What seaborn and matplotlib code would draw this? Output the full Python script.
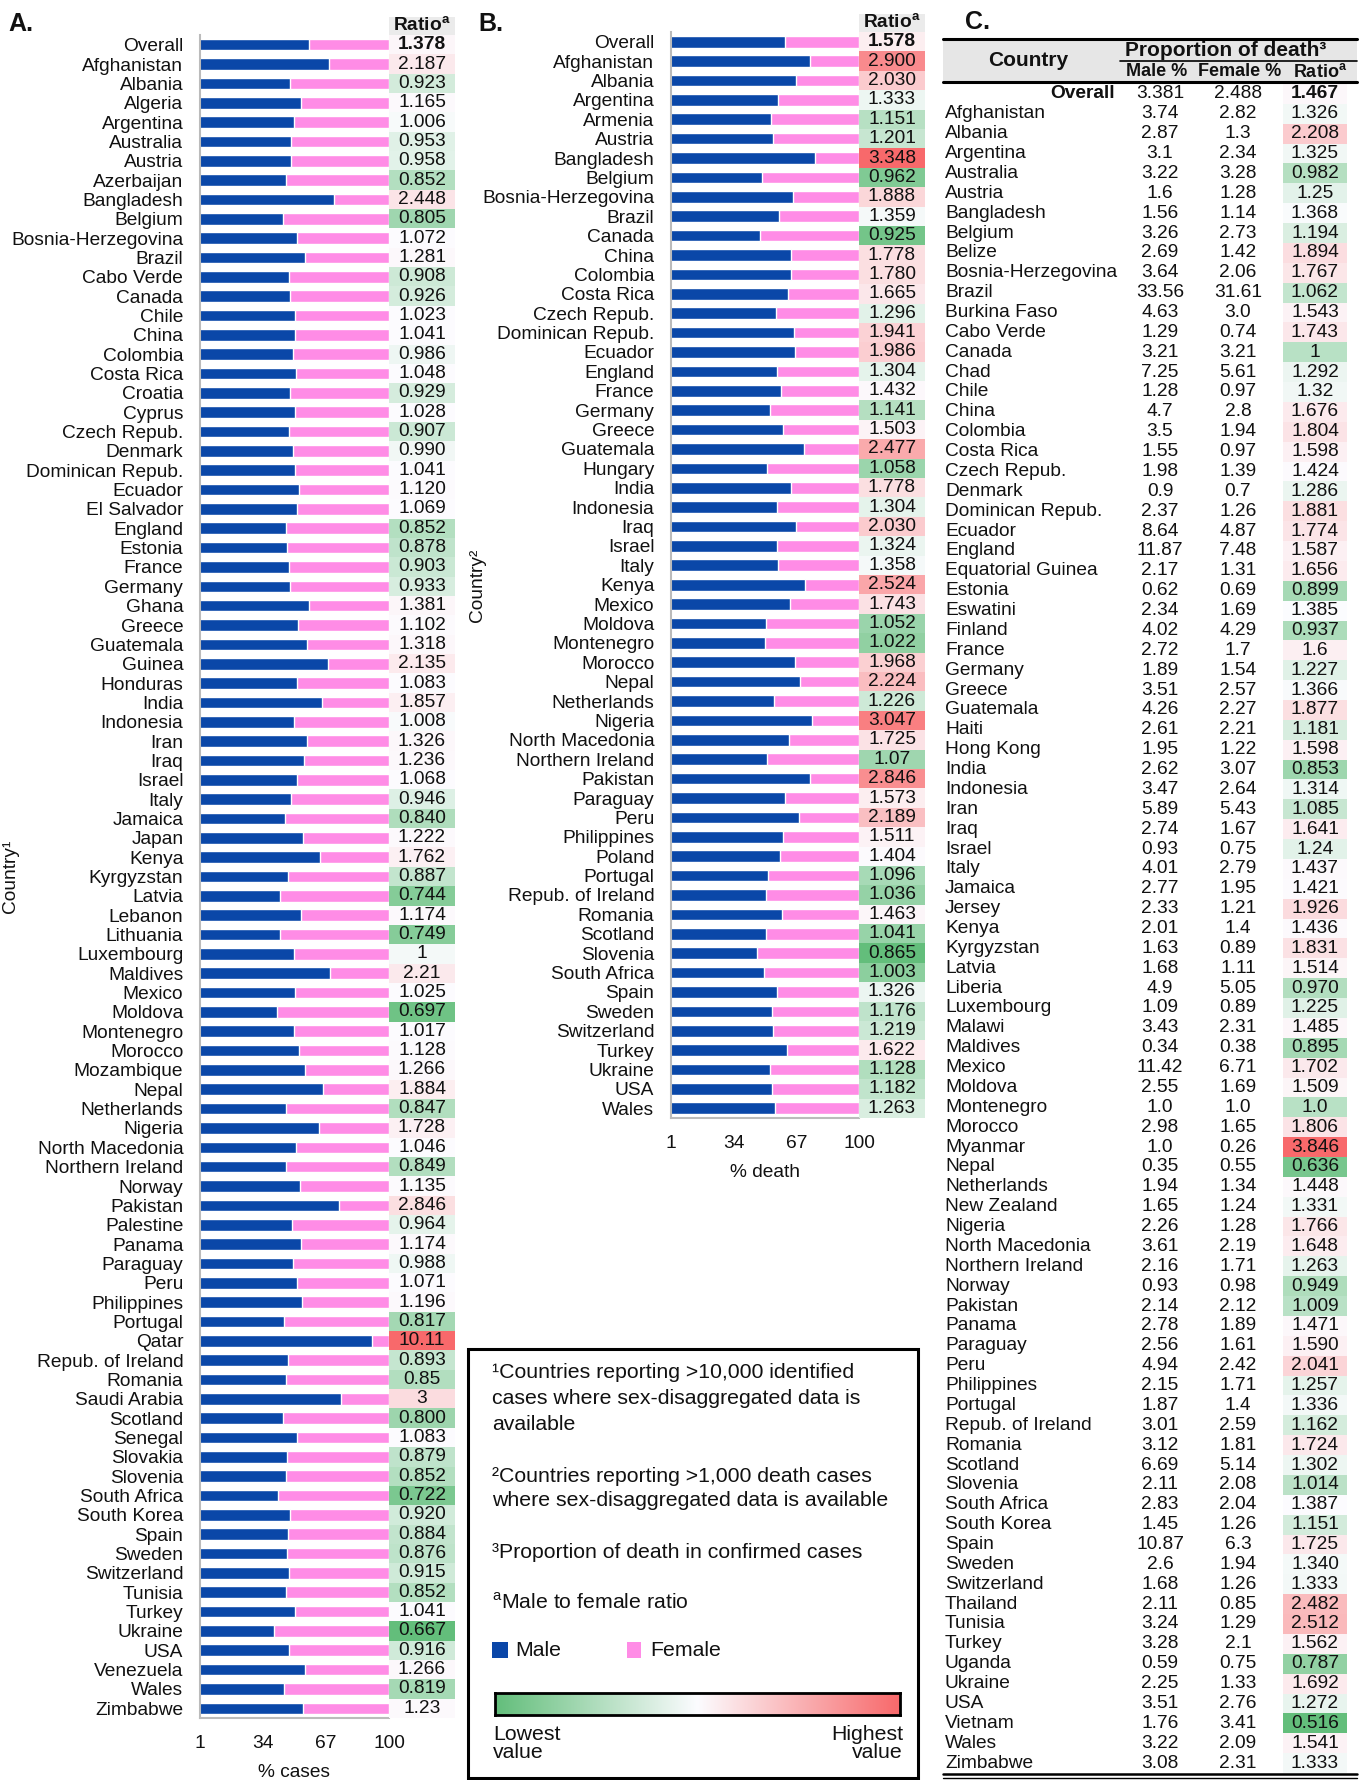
import numpy as np
import pandas as pd
import matplotlib.pyplot as plt
from matplotlib.colors import LinearSegmentedColormap, TwoSlopeNorm
from matplotlib.patches import Rectangle
from matplotlib.lines import Line2D
import seaborn as sns

sns.set_theme(style="white")
plt.rcParams["font.family"] = ["Liberation Sans", "DejaVu Sans"]
plt.rcParams["mathtext.fontset"] = "custom"
plt.rcParams["mathtext.rm"] = "Liberation Sans"
plt.rcParams["mathtext.bf"] = "Liberation Sans:bold"

# ---- panel A: cases ----
countries_a = [
    "Overall", "Afghanistan", "Albania", "Algeria", "Argentina", "Australia", "Austria",
    "Azerbaijan", "Bangladesh", "Belgium", "Bosnia-Herzegovina", "Brazil", "Cabo Verde",
    "Canada", "Chile", "China", "Colombia", "Costa Rica", "Croatia", "Cyprus", "Czech Repub.",
    "Denmark", "Dominican Repub.", "Ecuador", "El Salvador", "England", "Estonia", "France",
    "Germany", "Ghana", "Greece", "Guatemala", "Guinea", "Honduras", "India", "Indonesia",
    "Iran", "Iraq", "Israel", "Italy", "Jamaica", "Japan", "Kenya", "Kyrgyzstan", "Latvia",
    "Lebanon", "Lithuania", "Luxembourg", "Maldives", "Mexico", "Moldova", "Montenegro",
    "Morocco", "Mozambique", "Nepal", "Netherlands", "Nigeria", "North Macedonia",
    "Northern Ireland", "Norway", "Pakistan", "Palestine", "Panama", "Paraguay", "Peru",
    "Philippines", "Portugal", "Qatar", "Repub. of Ireland", "Romania", "Saudi Arabia",
    "Scotland", "Senegal", "Slovakia", "Slovenia", "South Africa", "South Korea", "Spain",
    "Sweden", "Switzerland", "Tunisia", "Turkey", "Ukraine", "USA", "Venezuela", "Wales",
    "Zimbabwe",
]
ratio_a = [
    "1.378", "2.187", "0.923", "1.165", "1.006", "0.953", "0.958", "0.852", "2.448", "0.805",
    "1.072", "1.281", "0.908", "0.926", "1.023", "1.041", "0.986", "1.048", "0.929", "1.028",
    "0.907", "0.990", "1.041", "1.120", "1.069", "0.852", "0.878", "0.903", "0.933", "1.381",
    "1.102", "1.318", "2.135", "1.083", "1.857", "1.008", "1.326", "1.236", "1.068", "0.946",
    "0.840", "1.222", "1.762", "0.887", "0.744", "1.174", "0.749", "1", "2.21", "1.025",
    "0.697", "1.017", "1.128", "1.266", "1.884", "0.847", "1.728", "1.046", "0.849", "1.135",
    "2.846", "0.964", "1.174", "0.988", "1.071", "1.196", "0.817", "10.11", "0.893", "0.85",
    "3", "0.800", "1.083", "0.879", "0.852", "0.722", "0.920", "0.884", "0.876", "0.915",
    "0.852", "1.041", "0.667", "0.916", "1.266", "0.819", "1.23",
]

# ---- panel B: deaths ----
countries_b = [
    "Overall", "Afghanistan", "Albania", "Argentina", "Armenia", "Austria", "Bangladesh",
    "Belgium", "Bosnia-Herzegovina", "Brazil", "Canada", "China", "Colombia", "Costa Rica",
    "Czech Repub.", "Dominican Repub.", "Ecuador", "England", "France", "Germany", "Greece",
    "Guatemala", "Hungary", "India", "Indonesia", "Iraq", "Israel", "Italy", "Kenya", "Mexico",
    "Moldova", "Montenegro", "Morocco", "Nepal", "Netherlands", "Nigeria", "North Macedonia",
    "Northern Ireland", "Pakistan", "Paraguay", "Peru", "Philippines", "Poland", "Portugal",
    "Repub. of Ireland", "Romania", "Scotland", "Slovenia", "South Africa", "Spain", "Sweden",
    "Switzerland", "Turkey", "Ukraine", "USA", "Wales",
]
ratio_b = [
    "1.578", "2.900", "2.030", "1.333", "1.151", "1.201", "3.348", "0.962", "1.888", "1.359",
    "0.925", "1.778", "1.780", "1.665", "1.296", "1.941", "1.986", "1.304", "1.432", "1.141",
    "1.503", "2.477", "1.058", "1.778", "1.304", "2.030", "1.324", "1.358", "2.524", "1.743",
    "1.052", "1.022", "1.968", "2.224", "1.226", "3.047", "1.725", "1.07", "2.846", "1.573",
    "2.189", "1.511", "1.404", "1.096", "1.036", "1.463", "1.041", "0.865", "1.003", "1.326",
    "1.176", "1.219", "1.622", "1.128", "1.182", "1.263",
]

# ---- panel C: proportion of death ----
countries_c = [
    "Overall", "Afghanistan", "Albania", "Argentina", "Australia", "Austria", "Bangladesh",
    "Belgium", "Belize", "Bosnia-Herzegovina", "Brazil", "Burkina Faso", "Cabo Verde",
    "Canada", "Chad", "Chile", "China", "Colombia", "Costa Rica", "Czech Repub.", "Denmark",
    "Dominican Repub.", "Ecuador", "England", "Equatorial Guinea", "Estonia", "Eswatini",
    "Finland", "France", "Germany", "Greece", "Guatemala", "Haiti", "Hong Kong", "India",
    "Indonesia", "Iran", "Iraq", "Israel", "Italy", "Jamaica", "Jersey", "Kenya", "Kyrgyzstan",
    "Latvia", "Liberia", "Luxembourg", "Malawi", "Maldives", "Mexico", "Moldova", "Montenegro",
    "Morocco", "Myanmar", "Nepal", "Netherlands", "New Zealand", "Nigeria", "North Macedonia",
    "Northern Ireland", "Norway", "Pakistan", "Panama", "Paraguay", "Peru", "Philippines",
    "Portugal", "Repub. of Ireland", "Romania", "Scotland", "Slovenia", "South Africa",
    "South Korea", "Spain", "Sweden", "Switzerland", "Thailand", "Tunisia", "Turkey", "Uganda",
    "Ukraine", "USA", "Vietnam", "Wales", "Zimbabwe",
]
male_c = [
    "3.381", "3.74", "2.87", "3.1", "3.22", "1.6", "1.56", "3.26", "2.69", "3.64", "33.56",
    "4.63", "1.29", "3.21", "7.25", "1.28", "4.7", "3.5", "1.55", "1.98", "0.9", "2.37", "8.64",
    "11.87", "2.17", "0.62", "2.34", "4.02", "2.72", "1.89", "3.51", "4.26", "2.61", "1.95",
    "2.62", "3.47", "5.89", "2.74", "0.93", "4.01", "2.77", "2.33", "2.01", "1.63", "1.68",
    "4.9", "1.09", "3.43", "0.34", "11.42", "2.55", "1.0", "2.98", "1.0", "0.35", "1.94",
    "1.65", "2.26", "3.61", "2.16", "0.93", "2.14", "2.78", "2.56", "4.94", "2.15", "1.87",
    "3.01", "3.12", "6.69", "2.11", "2.83", "1.45", "10.87", "2.6", "1.68", "2.11", "3.24",
    "3.28", "0.59", "2.25", "3.51", "1.76", "3.22", "3.08",
]
female_c = [
    "2.488", "2.82", "1.3", "2.34", "3.28", "1.28", "1.14", "2.73", "1.42", "2.06", "31.61",
    "3.0", "0.74", "3.21", "5.61", "0.97", "2.8", "1.94", "0.97", "1.39", "0.7", "1.26", "4.87",
    "7.48", "1.31", "0.69", "1.69", "4.29", "1.7", "1.54", "2.57", "2.27", "2.21", "1.22",
    "3.07", "2.64", "5.43", "1.67", "0.75", "2.79", "1.95", "1.21", "1.4", "0.89", "1.11",
    "5.05", "0.89", "2.31", "0.38", "6.71", "1.69", "1.0", "1.65", "0.26", "0.55", "1.34",
    "1.24", "1.28", "2.19", "1.71", "0.98", "2.12", "1.89", "1.61", "2.42", "1.71", "1.4",
    "2.59", "1.81", "5.14", "2.08", "2.04", "1.26", "6.3", "1.94", "1.26", "0.85", "1.29",
    "2.1", "0.75", "1.33", "2.76", "3.41", "2.09", "2.31",
]
ratio_c = [
    "1.467", "1.326", "2.208", "1.325", "0.982", "1.25", "1.368", "1.194", "1.894", "1.767",
    "1.062", "1.543", "1.743", "1", "1.292", "1.32", "1.676", "1.804", "1.598", "1.424",
    "1.286", "1.881", "1.774", "1.587", "1.656", "0.899", "1.385", "0.937", "1.6", "1.227",
    "1.366", "1.877", "1.181", "1.598", "0.853", "1.314", "1.085", "1.641", "1.24", "1.437",
    "1.421", "1.926", "1.436", "1.831", "1.514", "0.970", "1.225", "1.485", "0.895", "1.702",
    "1.509", "1.0", "1.806", "3.846", "0.636", "1.448", "1.331", "1.766", "1.648", "1.263",
    "0.949", "1.009", "1.471", "1.590", "2.041", "1.257", "1.336", "1.162", "1.724", "1.302",
    "1.014", "1.387", "1.151", "1.725", "1.340", "1.333", "2.482", "2.512", "1.562", "0.787",
    "1.692", "1.272", "0.516", "1.541", "1.333",
]

BLUE = "#0A47A8"
PINK = "#FF8CE6"
INK = "#111111"
FS = 13.8
cmap = LinearSegmentedColormap.from_list("gwr", ["#63BE7B", "#FCFCFF", "#F8696B"])

W, H = 1360, 1780
fig = plt.figure(figsize=(W / 100, H / 100), dpi=100)


def box(x0, y0, x1, y1):
    return fig.add_axes([x0 / W, 1 - y1 / H, (x1 - x0) / W, (y1 - y0) / H])


def ftext(x, y, s, **kw):
    kw.setdefault("fontsize", FS)
    kw.setdefault("va", "center")
    kw.setdefault("color", INK)
    return fig.text(x / W, 1 - y / H, s, **kw)


def frect(x0, y0, x1, y1, **kw):
    kw.setdefault("zorder", -1)
    fig.add_artist(Rectangle((x0 / W, 1 - y1 / H), (x1 - x0) / W, (y1 - y0) / H,
                             transform=fig.transFigure, **kw))


def fline(x0, x1, y, lw, color="black"):
    fig.add_artist(Line2D([x0 / W, x1 / W], [1 - y / H] * 2, transform=fig.transFigure,
                          lw=lw, color=color, zorder=5))


def ratio_column(ax, labels):
    v = np.array([float(s) for s in labels])
    norm = TwoSlopeNorm(vmin=v.min(), vcenter=np.median(v), vmax=v.max())
    sns.heatmap(v[:, None], ax=ax, cmap=cmap, norm=norm, annot=np.array(labels)[:, None],
                fmt="", cbar=False, xticklabels=False, yticklabels=False,
                annot_kws={"fontsize": FS, "color": INK})
    ax.texts[0].set_fontweight("bold")


def bar_panel(ax, countries, labels, xlabel):
    r = np.array([float(s) for s in labels])
    df = pd.DataFrame({"country": countries, "female": 100.0, "male": r / (1 + r) * 100})
    sns.barplot(data=df, x="female", y="country", orient="h", color=PINK, width=0.6,
                saturation=1, ax=ax)
    sns.barplot(data=df, x="male", y="country", orient="h", color=BLUE, width=0.6,
                saturation=1, ax=ax)
    ax.set_xlim(1, 100)
    ax.set_xticks([1, 34, 67, 100])
    ax.tick_params(axis="both", length=0, labelsize=FS, labelcolor=INK)
    ax.tick_params(axis="y", pad=12)
    ax.tick_params(axis="x", pad=12)
    ax.set_ylabel("")
    ax.set_xlabel(xlabel, fontsize=FS, labelpad=9, color=INK)
    for s in ["top", "right"]:
        ax.spines[s].set_visible(False)
    for s in ["left", "bottom"]:
        ax.spines[s].set_color("#BBBBBB")
        ax.spines[s].set_linewidth(1.5)


RATIO_HDR = r"Ratio$^\mathbf{a}$"

# panel A
axA = box(200, 35, 389, 1718)
bar_panel(axA, countries_a, ratio_a, "% cases")
ratio_column(box(389, 35, 455, 1718), ratio_a)
frect(389, 17, 455, 36, color="#EBEBEB", lw=0)
ftext(422, 26, RATIO_HDR, ha="center", fontweight="bold")
ftext(8, 24, "A.", fontsize=18, fontweight="bold")
ftext(10, 876, "Country¹", rotation=90, ha="center")

# panel B
axB = box(671, 32, 859, 1118)
bar_panel(axB, countries_b, ratio_b, "% death")
ratio_column(box(859, 32, 925, 1118), ratio_b)
frect(859, 14, 925, 33, color="#EBEBEB", lw=0)
ftext(892, 23, RATIO_HDR, ha="center", fontweight="bold")
ftext(478, 24, "B.", fontsize=18, fontweight="bold")
ftext(478, 585, "Country²", rotation=90, ha="center")

# panel C table
n_c = len(countries_c)
top_c, bot_c = 84, 1773
axC = box(943, top_c, 1283, bot_c)
axC.set_xlim(943, 1283)
axC.set_ylim(n_c, 0)
axC.axis("off")
for i, (c, m, f) in enumerate(zip(countries_c, male_c, female_c)):
    y = i + 0.5
    if i == 0:
        axC.text(1115, y, c, ha="right", va="center", fontsize=FS, fontweight="bold", color=INK)
    else:
        axC.text(945, y, c, ha="left", va="center", fontsize=FS, color=INK)
    axC.text(1160, y, m, ha="center", va="center", fontsize=FS, color=INK)
    axC.text(1238, y, f, ha="center", va="center", fontsize=FS, color=INK)
ratio_column(box(1283, top_c, 1347, bot_c), ratio_c)

frect(943, 39, 1357, 82, color="#E6E6E6", lw=0)
fline(943, 1357, 39, 2.2)
fline(1120, 1357, 61, 1.2)
fline(943, 1357, 82, 2.2)
fline(943, 1357, 1774, 1.8)
fline(943, 1357, 1778, 1.0)
ftext(965, 22, "C.", fontsize=18, fontweight="bold")
ftext(1028, 60, "Country", ha="center", fontweight="bold", fontsize=15)
ftext(1226, 50, "Proportion of death³", ha="center", fontweight="bold", fontsize=15)
ftext(1157, 72, "Male %", ha="center", fontweight="bold", fontsize=13)
ftext(1240, 72, "Female %", ha="center", fontweight="bold", fontsize=13)
ftext(1320, 72, RATIO_HDR, ha="center", fontweight="bold", fontsize=13)

# legend / footnote box
LFS = 15.3
frect(468, 1349, 918, 1778, facecolor="white", edgecolor="black", lw=2.2)
notes = [
    (1373, "¹Countries reporting >10,000 identified"),
    (1398, "cases where sex-disaggregated data is"),
    (1425, "available"),
    (1476, "²Countries reporting >1,000 death cases"),
    (1500, "where sex-disaggregated data is available"),
    (1553, "³Proportion of death in confirmed cases"),
    (1602, r"$^\mathrm{a}$Male to female ratio"),
]
for y, s in notes:
    ftext(492, y, s, fontsize=LFS)
frect(492, 1642, 508, 1658, color=BLUE, lw=0, zorder=2)
ftext(515, 1650, "Male", fontsize=LFS)
frect(627, 1642, 641, 1658, color=PINK, lw=0, zorder=2)
ftext(650, 1650, "Female", fontsize=LFS)

axG = box(495, 1693, 900, 1715)
axG.imshow(np.linspace(0, 1, 256)[None, :], cmap=cmap, aspect="auto")
axG.set_xticks([])
axG.set_yticks([])
for s in axG.spines.values():
    s.set_color("black")
    s.set_linewidth(2)
ftext(493, 1734, "Lowest", fontsize=LFS)
ftext(493, 1753, "value", fontsize=LFS)
ftext(903, 1734, "Highest", fontsize=LFS, ha="right")
ftext(903, 1753, "value", fontsize=LFS, ha="right")

fig.savefig("out.png", dpi=100)
